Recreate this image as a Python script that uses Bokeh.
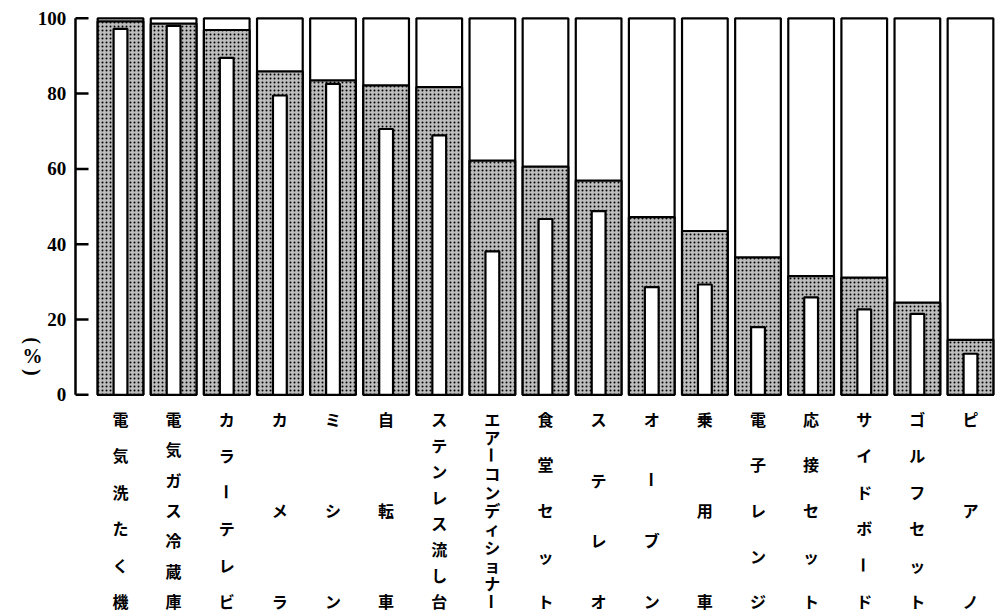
import numpy as np
from bokeh.plotting import figure
from bokeh.models import Range1d, ColumnDataSource
from bokeh.core.properties import value
from bokeh.embed import file_html
from bokeh.resources import INLINE

categories = ["電気洗たく機", "電気ガス冷蔵庫", "カラーテレビ", "カメラ", "ミシン", "自転車",
              "ステンレス流し台", "エアーコンディショナー", "食堂セット", "ステレオ", "オーブン",
              "乗用車", "電子レンジ", "応接セット", "サイドボード", "ゴルフセット", "ピアノ"]
outer_pct = [99.2, 98.6, 96.9, 85.9, 83.5, 82.2, 81.7, 62.2, 60.6, 56.9, 47.2,
             43.5, 36.5, 31.5, 31.1, 24.5, 14.6]
inner_pct = [97.2, 98.0, 89.5, 79.5, 82.6, 70.6, 68.9, 38.1, 46.7, 48.8, 28.6,
             29.3, 18.0, 25.9, 22.7, 21.5, 10.9]
y_ticks = [0, 20, 40, 60, 80, 100]
y_tick_labels = ["0", "20", "40", "60", "80", "100"]
y_max = 100
unit_label = ["(", "%", ")"]

n = len(categories)
src = ColumnDataSource(dict(x=list(range(n)), outer=outer_pct, inner=inner_pct,
                            full=[y_max] * n))

p = figure(width=995, height=613, output_backend="svg", toolbar_location=None,
           x_range=Range1d(-2.2588, 16.4706), y_range=Range1d(-58.09, 104.73),
           x_axis_type=None, y_axis_type=None,
           min_border_left=0, min_border_right=0, min_border_top=0, min_border_bottom=0)
p.outline_line_color = None
p.background_fill_color = "white"
p.border_fill_color = "white"

# y axis (drawn in data space)
axis_x = -0.847
tick_end = -0.602
label_x = -1.02
p.segment(x0=[axis_x], y0=[0], x1=[axis_x], y1=[y_max], line_color="black", line_width=2.5)
p.segment(x0=[axis_x] * len(y_ticks), y0=y_ticks, x1=[tick_end] * len(y_ticks), y1=y_ticks,
          line_color="black", line_width=2.5)
p.text(x=[label_x] * len(y_ticks), y=y_ticks, text=y_tick_labels, text_align="right",
       text_baseline="middle", text_font=value("Liberation Serif"), text_font_style="bold",
       text_font_size="19px", text_color="black")

bar_w = 0.86
p.vbar(x="x", top="full", bottom=0, width=bar_w, fill_color="white",
       line_color="black", line_width=2.2, source=src)
p.vbar(x="x", top="outer", bottom=0, width=bar_w, fill_color="#bdbdbd",
       hatch_pattern="dot", hatch_scale=4, hatch_color="black", hatch_weight=1.6,
       hatch_alpha=1.0, line_color="black", line_width=2.2, source=src)
p.vbar(x="x", top="inner", bottom=0, width=0.26, fill_color="white",
       line_color="black", line_width=2.2, source=src)

# vertical (stacked) category labels
top_y, bot_y = -6.3, -54.9
lx, ly, lt, la = [], [], [], []
for i, name in enumerate(categories):
    chars = list(name)
    ys = np.linspace(top_y, bot_y, len(chars))
    for c, yy in zip(chars, ys):
        lx.append(i)
        ly.append(float(yy))
        lt.append(c)
        la.append(-np.pi / 2 if c == "ー" else 0.0)
lsrc = ColumnDataSource(dict(x=lx, y=ly, t=lt, a=la))
p.text(x="x", y="y", text="t", angle="a", source=lsrc, text_align="center",
       text_baseline="middle", text_font=value("Noto Sans CJK JP"),
       text_font_style="bold", text_font_size="16px", text_color="black")

# (%) unit label, written vertically
p.text(x=[-1.656] * 3, y=[14.4, 10.3, 6.0], text=unit_label,
       angle=[-np.pi / 2, 0.0, -np.pi / 2], text_align="center", text_baseline="middle",
       text_font=value("Liberation Serif"), text_font_style="bold",
       text_font_size="20px", text_color="black")

open("out.html", "w").write(file_html(p, INLINE))
